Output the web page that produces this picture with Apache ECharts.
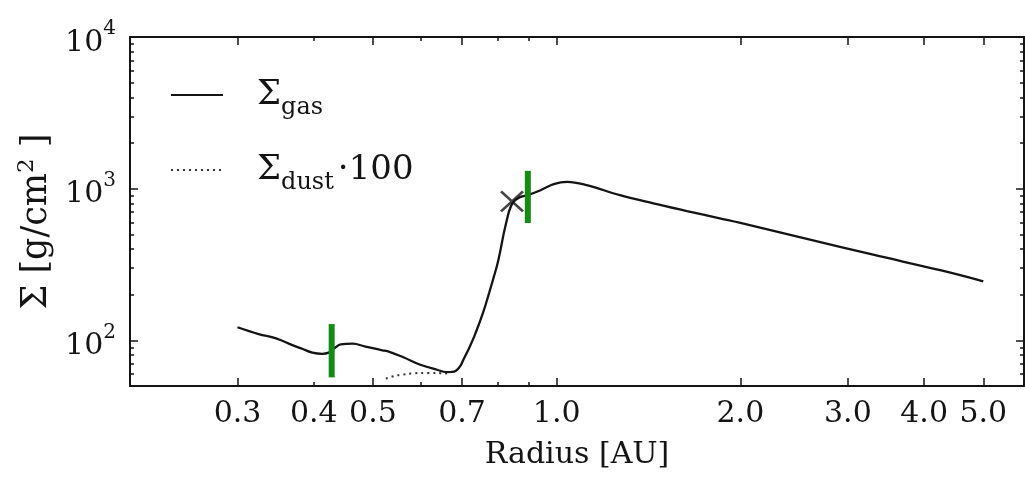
<!DOCTYPE html>
<html><head><meta charset="utf-8">
<script src="https://cdn.jsdelivr.net/npm/echarts@6/dist/echarts.min.js"></script>
<style>html,body{margin:0;padding:0;background:#fff}#c{width:1025px;height:477px}</style>
</head><body><div id="c"></div>
<script>
// ---- data ----
const gasR = [0.300,0.325,0.347,0.369,0.383,0.398,0.413,0.423,0.433,0.443,0.463,0.486,0.518,0.528,0.562,0.598,0.637,0.660,0.672,0.684,0.695,0.705,0.718,0.732,0.746,0.760,0.775,0.789,0.800,0.809,0.8245,0.846,0.873,0.896,0.941,0.989,1.04,1.12,1.27,1.44,1.635,1.85,2.0,2.57,3.30,4.25,5.0];
const gasSigma = [122,110,103,93,88,83,81.5,83,89,94,95,91,86,85,77,69,64,61.8,61.9,63,67.5,76,88,105,128,158,205,262,320,393,570,800,883,906,977,1071,1109,1055,906,800,712,638,595,467,367,290,245];
const dustR = [0.525,0.545,0.570,0.600,0.635,0.655,0.672];
const dustSigma = [56,58.5,60,61,61,60.5,61.2];
const greenR = [0.428,0.897];
const greenLow = [57,594];
const greenHigh = [128,1311];
const crossR = [0.845];
const crossSigma = [826];
const xMajorTicks = [0.3,0.5,0.7,1.0,2.0,3.0,4.0,5.0];
const xMinorTicks = [0.4,0.6,0.8,0.9];
const xTickLabels = [0.3,0.4,0.5,0.7,1.0,2.0,3.0,4.0,5.0];
const yMajorTicks = [100,1000,10000];
const yMinorTicks = [50,60,70,80,90,200,300,400,500,600,700,800,900,2000,3000,4000,5000,6000,7000,8000,9000];
const yTickLabels = [100,1000,10000];

const FONT = "'DejaVu Serif', serif";
const INK = '#141414';
const X_MIN = 0.2, X_MAX = 5.83, Y_MIN = 50, Y_MAX = 10000;

function zip(a, b) { return a.map((v, i) => [v, b[i]]); }

function xAxisDef(pos, ticks, len, showLine, labels) {
  return {
    type: 'log', logBase: 10, min: X_MIN, max: X_MAX, position: pos,
    splitLine: { show: false },
    axisLine: { show: showLine, onZero: false, lineStyle: { color: INK, width: 2 } },
    axisTick: { show: true, inside: true, length: len, customValues: ticks, lineStyle: { color: INK, width: 1.5 } },
    axisLabel: labels ? {
      show: true, customValues: labels, margin: 13,
      formatter: v => Number(v).toFixed(1),
      fontFamily: FONT, fontSize: 30, color: INK
    } : { show: false }
  };
}
function yAxisDef(pos, ticks, len, showLine, labels) {
  return {
    type: 'log', logBase: 10, min: Y_MIN, max: Y_MAX, position: pos,
    splitLine: { show: false },
    axisLine: { show: showLine, onZero: false, lineStyle: { color: INK, width: 2 } },
    axisTick: { show: true, inside: true, length: len, customValues: ticks, lineStyle: { color: INK, width: 1.5 } },
    axisLabel: labels ? {
      show: true, customValues: labels, margin: 14,
      formatter: v => '{m|10}{s|' + Math.round(Math.log10(v)) + '}',
      padding: [12, 0, 0, 0],
      rich: {
        m: { fontFamily: FONT, fontSize: 30, color: INK, lineHeight: 48 },
        s: { fontFamily: FONT, fontSize: 20, color: INK, lineHeight: 20, verticalAlign: 'top' }
      }
    } : { show: false }
  };
}

const xAxes = [
  xAxisDef('bottom', xMajorTicks, 8, true, xTickLabels),
  xAxisDef('bottom', xMinorTicks, 4, false, null),
  xAxisDef('top', xMajorTicks, 8, true, null),
  xAxisDef('top', xMinorTicks, 4, false, null)
];
Object.assign(xAxes[0], {
  name: 'Radius [AU]', nameLocation: 'middle', nameGap: 54,
  nameTextStyle: { fontFamily: FONT, fontSize: 30, color: INK }
});
const yAxes = [
  yAxisDef('left', yMajorTicks, 8, true, yTickLabels),
  yAxisDef('left', yMinorTicks, 4, false, null),
  yAxisDef('right', yMajorTicks, 8, true, null),
  yAxisDef('right', yMinorTicks, 4, false, null)
];
Object.assign(yAxes[0], {
  name: '{a|Σ [g/cm}{b|2}{a| ]}', nameLocation: 'middle', nameGap: 72, nameRotate: 90,
  nameTextStyle: {
    padding: [0, 20, 0, 0],
    rich: {
      a: { fontFamily: FONT, fontSize: 35, color: INK, lineHeight: 42 },
      b: { fontFamily: FONT, fontSize: 23, color: INK, lineHeight: 24, verticalAlign: 'top' }
    }
  }
});

const series = [
  {
    type: 'line', name: 'dust', data: zip(dustR, dustSigma), symbol: 'none', smooth: 0.3,
    lineStyle: { color: '#333', width: 2, type: [2, 4] }, itemStyle: { color: '#333' }, z: 2
  },
  {
    type: 'line', name: 'gas', data: zip(gasR, gasSigma), symbol: 'none', smooth: 0.4,
    lineStyle: { color: INK, width: 2.3 }, itemStyle: { color: INK }, z: 3
  }
];
greenR.forEach((r, i) => {
  series.push({
    type: 'line', name: 'edge' + i, data: [[r, greenLow[i]], [r, greenHigh[i]]], symbol: 'none',
    lineStyle: { color: '#148c14', width: 6, cap: 'butt' }, z: 4
  });
});
series.push({
  type: 'scatter', name: 'cross', data: zip(crossR, crossSigma),
  symbol: 'path://M0,0L10,10M10,0L0,10', symbolSize: [22, 20],
  itemStyle: { color: 'transparent', borderColor: INK, borderWidth: 2.6 }, z: 5
});

const chart = echarts.init(document.getElementById('c'), null, { renderer: 'canvas' });
chart.setOption({
  animation: false,
  backgroundColor: '#fff',
  grid: { left: 130, right: 1, top: 37, bottom: 91, containLabel: false, outerBoundsMode: 'none' },
  legend: {
    data: ['gas', 'dust'], orient: 'vertical', left: 165, top: 73,
    itemWidth: 52, itemHeight: 14, itemGap: 33, selectedMode: false,
    itemStyle: { color: 'rgba(0,0,0,0)', borderColor: 'rgba(0,0,0,0)', borderWidth: 0, opacity: 0 },
    formatter: n => n === 'gas' ? '{s|Σ}{sub|gas}' : '{s|Σ}{sub|dust}{n|·100}',
    textStyle: {
      rich: {
        s: { fontFamily: FONT, fontSize: 34, color: INK, lineHeight: 50, padding: [0, 0, 0, 29] },
        sub: { fontFamily: FONT, fontSize: 24, color: INK, lineHeight: 30, verticalAlign: 'bottom' },
        n: { fontFamily: FONT, fontSize: 34, color: INK, lineHeight: 50, padding: [0, 0, 0, 4] }
      }
    }
  },
  xAxis: xAxes,
  yAxis: yAxes,
  series: series
});
</script></body></html>
